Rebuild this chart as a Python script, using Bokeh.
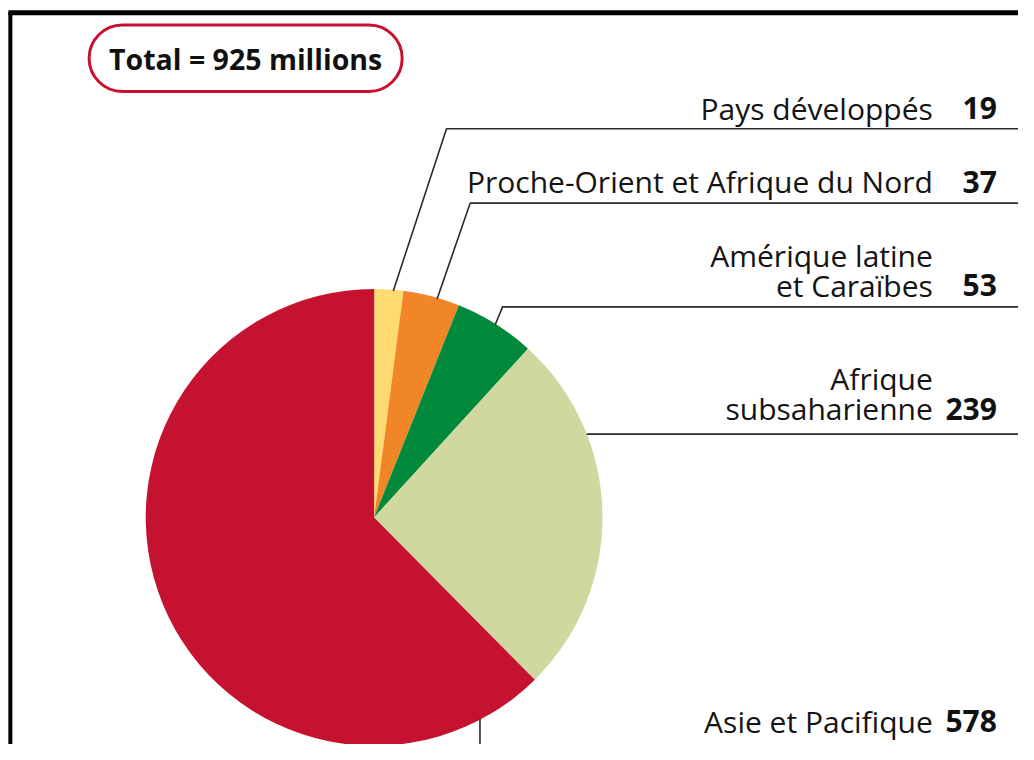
import numpy as np
from bokeh.plotting import figure
from bokeh.models import Range1d, BoxAnnotation
from bokeh.core.properties import value
from bokeh.embed import file_html
from bokeh.resources import INLINE

# ---- data ----
label_lines = [
    ["Pays développés"],
    ["Proche-Orient et Afrique du Nord"],
    ["Amérique latine", "et Caraïbes"],
    ["Afrique", "subsaharienne"],
    ["Asie et Pacifique"],
]
values = [19, 37, 53, 239, 578]
colors = ["#FEDA70", "#F08628", "#00893A", "#D0D8A0", "#C41230"]
total_millions = 925

# ---- layout (reference pixel coordinates, scaled into the figure) ----
W, H = 1018, 744
RW, RH = 1034, 760
FONT = "Open Sans"
FS = "30px"
TDY = 11  # baseline correction for rendered text

def Y(s):
    return -s

p = figure(width=W, height=H, x_range=Range1d(0, RW), y_range=Range1d(-RH, 0),
           output_backend="svg", toolbar_location=None, min_border=0,
           x_axis_location=None, y_axis_location=None)
p.grid.visible = False
p.outline_line_color = None
p.background_fill_color = "white"

# frame (top and left black rules)
p.line([10, 10], [Y(12), Y(780)], line_color="black", line_width=4)
p.line([8, 1060], [Y(12.5), Y(12.5)], line_color="black", line_width=5)

# pie
cx, cy, R = 379.5, 528, 232
vals = np.array(values, dtype=float)
tot = vals.sum()
cum = np.concatenate([[0], np.cumsum(vals)])
start = np.pi / 2 - 2 * np.pi * cum[:-1] / tot
end = np.pi / 2 - 2 * np.pi * cum[1:] / tot
p.wedge(x=[cx] * len(values), y=[Y(cy)] * len(values), radius=R,
        start_angle=list(start), end_angle=list(end), direction="clock",
        fill_color=colors, line_color=None)

def edge(deg):
    a = np.radians(deg)
    return cx + R * np.sin(a), cy - R * np.cos(a)

# leader lines
x_end = 1060
leaders = []
e1 = edge(4.8)
leaders.append(([e1[0], 453, x_end], [e1[1], 131, 131]))
e2 = edge(16.0)
leaders.append(([e2[0], 477, x_end], [e2[1], 207, 207]))
e3 = edge(32.0)
leaders.append(([e3[0], 510, x_end], [e3[1], 313, 313]))
y4 = 443
x4 = cx + np.sqrt(R ** 2 - (cy - y4) ** 2)
leaders.append(([x4, x_end], [y4, y4]))
x5 = 487
y5 = cy + np.sqrt(R ** 2 - (x5 - cx) ** 2)
leaders.append(([x5, x5], [y5, 790]))
for lx, ly in leaders:
    p.line(lx, [Y(v) for v in ly], line_color="#2a2a2a", line_width=1.6)

# labels
baselines = [121, 196, 302, 428, 747]
line_gap = 31
label_right = 947
num_right = 1012
for lines, v, b in zip(label_lines, values, baselines):
    n = len(lines)
    for i, t in enumerate(lines):
        yy = b - (n - 1 - i) * line_gap - TDY
        p.text(x=[label_right], y=[Y(yy)], text=[t], text_font=value(FONT),
               text_font_size=FS, text_align="right", text_baseline="alphabetic",
               text_color="#141414")
    p.text(x=[num_right], y=[Y(b - TDY)], text=[str(v)], text_font=value(FONT),
           text_font_size=FS, text_font_style="bold", text_align="right",
           text_baseline="alphabetic", text_color="#111111")

# total box
box = BoxAnnotation(left=90, right=408, top=Y(25), bottom=Y(93),
                    fill_color=None, line_color="#C8102E", line_alpha=1.0,
                    line_width=3, border_radius=34, level="underlay")
p.add_layout(box)
p.text(x=[249], y=[Y(71 - TDY)], text=[f"Total = {total_millions} millions"], text_font=value(FONT),
       text_font_size="28.5px", text_font_style="bold", text_align="center",
       text_baseline="alphabetic", text_color="#111111")

open("out.html", "w").write(file_html(p, INLINE))
